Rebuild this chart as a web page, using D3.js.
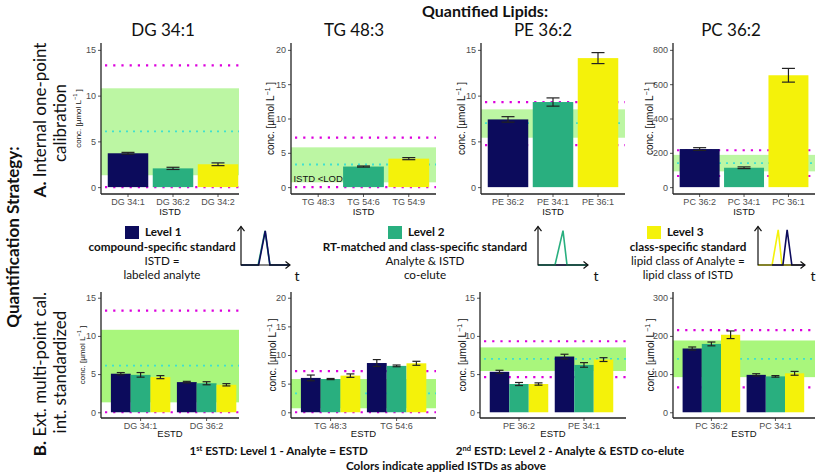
<!DOCTYPE html>
<html><head><meta charset="utf-8">
<script src="https://cdn.jsdelivr.net/npm/d3@7"></script>
<style>body{margin:0;background:#fff} svg{display:block}</style>
</head><body><svg id="c" width="817" height="475"></svg>
<script>
// ---------------- DATA ----------------
const lipids = ["DG 34:1", "TG 48:3", "PE 36:2", "PC 36:2"];
const levelNames = ["Level 1", "Level 2", "Level 3"];
const levelColors = ["#0c0b5c", "#29af7f", "#f4f20a"];

// Row A: internal one-point calibration (one bar per ISTD)
const istdA = [["DG 34:1", "DG 36:2", "DG 34:2"], ["TG 48:3", "TG 54:6", "TG 54:9"],
               ["PE 36:2", "PE 34:1", "PE 36:1"], ["PC 36:2", "PC 34:1", "PC 36:1"]];
const valueA = [[3.7, 2.05, 2.5], [null, 3.0, 4.15], [7.4, 9.3, 14.1], [222, 113, 652]];
const errorA = [[0.1, 0.12, 0.15], [null, 0.08, 0.15], [0.3, 0.45, 0.6], [8, 5, 40]];

// Row B: external multi-point calibration (grouped by ESTD, 3 ISTD levels each)
const estdB = [["DG 34:1", "DG 36:2"], ["TG 48:3", "TG 54:6"], ["PE 36:2", "PE 34:1"], ["PC 36:2", "PC 34:1"]];
const valueB = [[[5.05, 4.9, 4.6], [3.95, 3.8, 3.6]],
                [[6.0, 5.8, 6.4], [8.6, 8.1, 8.55]],
                [[5.3, 3.7, 3.7], [7.3, 6.2, 6.9]],
                [[167, 179, 203], [98, 94, 102]]];
const errorB = [[[0.15, 0.3, 0.2], [0.1, 0.2, 0.15]],
                [[0.5, 0.1, 0.3], [0.6, 0.15, 0.35]],
                [[0.2, 0.2, 0.15], [0.3, 0.3, 0.25]],
                [[4, 5, 10], [3, 2, 5]]];

// Reference ranges per lipid
const rangeLow = [1.3, 0.7, 5.4, 92];
const rangeHigh = [10.8, 5.8, 8.5, 188];
const refMin = [0, 0, 4.6, 65];
const refMax = [13.3, 7.2, 9.3, 215];
const refMean = [6.1, 3.3, 7.0, 140];

const yTicksA = [[0, 5, 10, 15], [0, 5, 10, 15, 20], [0, 5, 10, 15], [0, 200, 400, 600, 800]];
const yTicksB = [[0, 5, 10, 15], [0, 5, 10, 15, 20], [0, 5, 10, 15], [0, 100, 200, 300]];

// Chromatogram icons (t, intensity) per level
const peaks = [
  [{c: "#29af7f", p: [[0, 0], [3.5, 0], [4.9, 0.92], [5.9, 0], [10, 0]]},
   {c: "#0c0b5c", p: [[0, 0], [3.6, 0], [4.95, 0.92], [5.9, 0], [10, 0]]}],
  [{c: "#0c0b5c", p: [[0, 0], [10, 0]]},
   {c: "#29af7f", p: [[0, 0], [3.4, 0], [5.0, 0.93], [5.8, 0], [10, 0]]}],
  [{c: "#f4f20a", p: [[0, 0], [3.0, 0], [4.3, 0.95], [5.1, 0], [10, 0]]},
   {c: "#0c0b5c", p: [[3.0, 0], [5.3, 0], [6.2, 0.95], [7.2, 0], [10, 0]]}]
];

// ---------------- LAYOUT ----------------
const svg = d3.select("#c");
const AX = "'Liberation Sans', Arial, sans-serif";
const CAL = "Lato, 'Open Sans', sans-serif";
const FS = 11.7;

const layoutA = [
  {x0: 101, x1: 239, step: 45, yl: 81, ys: 8},
  {x0: 291, x1: 436, step: 45.3, yl: 274, ys: 10},
  {x0: 481, x1: 625, step: 45, yl: 465, ys: 10},
  {x0: 673, x1: 815, step: 44.4, yl: 653, ys: 10}];
const layoutB = [
  {x0: 101, x1: 239, step: 66, yl: 85, ys: 8},
  {x0: 291, x1: 436, step: 66, yl: 276, ys: 10},
  {x0: 480, x1: 626, step: 65, yl: 466, ys: 10},
  {x0: 673, x1: 815, step: 64, yl: 654, ys: 10}];
const titleX = [163, 354, 543, 731];

const defs = svg.append("defs");

function yTitle(g, x, yc, size) {
  const t = g.append("text").attr("transform", `translate(${x},${yc}) rotate(-90)`)
    .attr("text-anchor", "middle").attr("font-size", size).attr("font-family", AX).attr("fill", "#111");
  t.append("tspan").text("conc. [µmol L");
  t.append("tspan").attr("dy", -size * 0.45).attr("font-size", size * 0.7).text("−1");
  t.append("tspan").attr("dy", size * 0.45).text(" ]");
}

function drawPanel(i, row) {
  const L = row === "A" ? layoutA[i] : layoutB[i];
  const top = row === "A" ? 43 : 292, bottom = row === "A" ? 194 : 418;
  const ticks = row === "A" ? yTicksA[i] : yTicksB[i];
  const M = ticks[ticks.length - 1];
  const y = d3.scaleLinear().domain([-0.05 * M, 1.05 * M]).range([bottom, top]);
  const cats = row === "A" ? istdA[i] : estdB[i];
  const n = cats.length;
  const x = d3.scaleBand().domain(cats).range([L.x0, L.x0 + (n + 0.2) * L.step])
    .paddingInner(0.1).paddingOuter(0.15);
  const id = `clip${row}${i}`;
  defs.append("clipPath").attr("id", id).append("rect")
    .attr("x", L.x0).attr("y", top).attr("width", L.x1 - L.x0).attr("height", bottom - top);
  const g = svg.append("g");
  const pg = g.append("g").attr("clip-path", `url(#${id})`);

  // reference band
  pg.append("rect").attr("x", L.x0).attr("width", L.x1 - L.x0)
    .attr("y", y(rangeHigh[i])).attr("height", y(rangeLow[i]) - y(rangeHigh[i]))
    .attr("fill", row === "A" ? "#bcf6a3" : "#a9f67c");
  // dotted reference lines
  [[refMin[i], "#dd00dd"], [refMax[i], "#dd00dd"], [refMean[i], "#3fe0cf"]].forEach(([v, c]) => {
    pg.append("line").attr("x1", L.x0 + 4).attr("x2", L.x1).attr("y1", y(v)).attr("y2", y(v))
      .attr("stroke", c).attr("stroke-width", c === "#dd00dd" ? 2.2 : 1.8)
      .attr("stroke-dasharray", c === "#dd00dd" ? "2.2,6" : "2,5");
  });

  // bars
  const bars = [];
  if (row === "A") {
    cats.forEach((c, k) => {
      if (valueA[i][k] != null) bars.push({x: x(c), w: x.bandwidth(), v: valueA[i][k], e: errorA[i][k], col: levelColors[k]});
    });
  } else {
    const inner = d3.scaleBand().domain(levelNames).range([0, x.bandwidth()]);
    cats.forEach((c, gi) => {
      levelNames.forEach((ln, k) => {
        bars.push({x: x(c) + inner(ln), w: inner.bandwidth(), v: valueB[i][gi][k], e: errorB[i][gi][k], col: levelColors[k]});
      });
    });
  }
  pg.selectAll("rect.bar").data(bars).join("rect").attr("class", "bar")
    .attr("x", d => d.x).attr("width", d => d.w).attr("y", d => y(d.v)).attr("height", d => y(0) - y(d.v))
    .attr("fill", d => d.col);
  const cap = row === "A" ? 6.5 : 4;
  const eg = pg.append("g").attr("stroke", "#222").attr("stroke-width", 1.2);
  bars.forEach(d => {
    const cx = d.x + d.w / 2;
    eg.append("line").attr("x1", cx).attr("x2", cx).attr("y1", y(d.v + d.e)).attr("y2", y(d.v - d.e));
    eg.append("line").attr("x1", cx - cap).attr("x2", cx + cap).attr("y1", y(d.v + d.e)).attr("y2", y(d.v + d.e));
    eg.append("line").attr("x1", cx - cap).attr("x2", cx + cap).attr("y1", y(d.v - d.e)).attr("y2", y(d.v - d.e));
  });

  if (row === "A" && valueA[i][0] == null) {
    g.append("text").attr("x", x(cats[0]) + x.bandwidth() / 2).attr("y", y(0.75))
      .attr("text-anchor", "middle").attr("font-family", AX).attr("font-size", 9.5).attr("fill", "#111")
      .text("ISTD <LOD");
  }

  // axes
  const ya = g.append("g").attr("transform", `translate(${L.x0},0)`)
    .call(d3.axisLeft(y).tickValues(ticks).tickSize(3).tickPadding(2).tickFormat(d3.format("d")));
  const xa = g.append("g").attr("transform", `translate(0,${bottom})`)
    .call(d3.axisBottom(x).tickSize(3).tickPadding(2));
  [ya, xa].forEach(a => {
    a.select(".domain").remove();
    a.selectAll(".tick line").attr("stroke", "#555");
    a.selectAll(".tick text").attr("fill", "#4d4d4d").attr("font-size", 9).attr("font-family", AX);
  });
  xa.selectAll(".tick").filter(function () {
    const t = this.getAttribute("transform"); const v = +t.match(/\(([-\d.]+)/)[1]; return v > L.x1;
  }).remove();
  g.append("line").attr("x1", L.x0).attr("x2", L.x0).attr("y1", top).attr("y2", bottom).attr("stroke", "#222").attr("stroke-width", 1.3);
  g.append("line").attr("x1", L.x0).attr("x2", L.x1).attr("y1", bottom).attr("y2", bottom).attr("stroke", "#222").attr("stroke-width", 1.3);

  g.append("text").attr("x", (L.x0 + L.x1) / 2).attr("y", bottom + (row === "A" ? 21 : 19)).attr("text-anchor", "middle")
    .attr("font-family", AX).attr("font-size", 9.5).attr("fill", "#111").text(row === "A" ? "ISTD" : "ESTD");
  yTitle(g, L.yl, (top + bottom) / 2, L.ys);
}

for (let i = 0; i < 4; i++) { drawPanel(i, "A"); drawPanel(i, "B"); }

// titles
svg.append("text").attr("x", 485).attr("y", 17).attr("text-anchor", "middle").attr("font-family", CAL)
  .attr("font-weight", "bold").attr("font-size", 16).attr("fill", "#111").text("Quantified Lipids:");
lipids.forEach((l, i) => svg.append("text").attr("x", titleX[i]).attr("y", 36).attr("text-anchor", "middle")
  .attr("font-family", CAL).attr("font-size", 17).attr("fill", "#111").text(l));

// left labels
function vtext(x, yc, txt, size, bold) {
  svg.append("text").attr("transform", `translate(${x},${yc}) rotate(-90)`).attr("text-anchor", "middle")
    .attr("font-family", CAL).attr("font-size", size).attr("font-weight", bold ? "bold" : "normal")
    .attr("fill", "#111").text(txt);
}
vtext(19, 237, "Quantification Strategy:", 17, true);
const tA = svg.append("text").attr("transform", "translate(46,120) rotate(-90)").attr("text-anchor", "middle")
  .attr("font-family", CAL).attr("font-size", 17).attr("fill", "#111");
tA.append("tspan").attr("font-weight", "bold").text("A.");
tA.append("tspan").text(" Internal one-point");
vtext(66, 123, "calibration", 17, false);
const tB = svg.append("text").attr("transform", "translate(46,374) rotate(-90)").attr("text-anchor", "middle")
  .attr("font-family", CAL).attr("font-size", 17).attr("fill", "#111");
tB.append("tspan").attr("font-weight", "bold").text("B.");
tB.append("tspan").text(" Ext. multi-point cal.");
vtext(66, 372, "int. standardized", 17, false);

// legend
const legend = [
  {sq: 125, lines: ["compound-specific standard", "ISTD =", "labeled analyte"], cx: 162, icon: [241, 290], tx: 297},
  {sq: 388, lines: ["RT-matched and class-specific standard", "Analyte & ISTD", "co-elute"], cx: 425, icon: [538, 588], tx: 596},
  {sq: 647, lines: ["class-specific standard", "lipid class of Analyte =", "lipid class of ISTD"], cx: 688, icon: [758, 805], tx: 813}];
legend.forEach((d, k) => {
  svg.append("rect").attr("x", d.sq).attr("y", 226).attr("width", 14).attr("height", 13).attr("fill", levelColors[k]);
  svg.append("text").attr("x", d.sq + 20).attr("y", 236).attr("font-family", CAL).attr("font-weight", "bold")
    .attr("font-size", FS).attr("fill", "#111").text(levelNames[k]);
  d.lines.forEach((t, j) => svg.append("text").attr("x", d.cx).attr("y", 251 + j * 14).attr("text-anchor", "middle")
    .attr("font-family", CAL).attr("font-weight", j === 0 ? "bold" : "normal").attr("font-size", FS)
    .attr("fill", "#111").text(t));
  // icon
  const ix = d3.scaleLinear().domain([0, 10]).range(d.icon);
  const iy = d3.scaleLinear().domain([0, 1]).range([265, 228]);
  const ig = svg.append("g");
  peaks[k].forEach(pk => ig.append("path").attr("d", d3.line().x(p => ix(p[0])).y(p => iy(p[1]))(pk.p))
    .attr("fill", "none").attr("stroke", pk.c).attr("stroke-width", 1.6));
  ig.append("path").attr("d", `M${d.icon[0]},${iy(1.04)}V265H${d.icon[1]}`).attr("fill", "none").attr("stroke", "#111").attr("stroke-width", 1.2);
  ig.append("path").attr("d", `M${d.icon[0] - 3.5},${iy(1.04) + 4.5}L${d.icon[0]},${iy(1.04)}L${d.icon[0] + 3.5},${iy(1.04) + 4.5}`).attr("fill", "none").attr("stroke", "#111").attr("stroke-width", 1.2);
  ig.append("path").attr("d", `M${d.icon[1] - 4.5},261.5L${d.icon[1]},265L${d.icon[1] - 4.5},268.5`).attr("fill", "none").attr("stroke", "#111").attr("stroke-width", 1.2);
  svg.append("text").attr("x", d.tx).attr("y", 281).attr("text-anchor", "middle").attr("font-family", CAL)
    .attr("font-size", 14).attr("fill", "#111").text("t");
});

// bottom notes
function note(x, yv, anchor, parts) {
  const t = svg.append("text").attr("x", x).attr("y", yv).attr("text-anchor", anchor).attr("font-family", CAL)
    .attr("font-weight", "bold").attr("font-size", FS).attr("fill", "#111");
  parts.forEach(p => {
    const s = t.append("tspan").text(p.t);
    if (p.sup) s.attr("font-size", 7.5).attr("dy", -4.5);
    if (p.down) s.attr("dy", 4.5);
  });
}
note(368, 455, "end", [{t: "1"}, {t: "st", sup: true}, {t: " ESTD: Level 1 - Analyte = ESTD", down: true}]);
note(570, 455, "middle", [{t: "2"}, {t: "nd", sup: true}, {t: " ESTD: Level 2 - Analyte & ESTD co-elute", down: true}]);
note(446, 470, "middle", [{t: "Colors indicate applied ISTDs as above"}]);
</script></body></html>
